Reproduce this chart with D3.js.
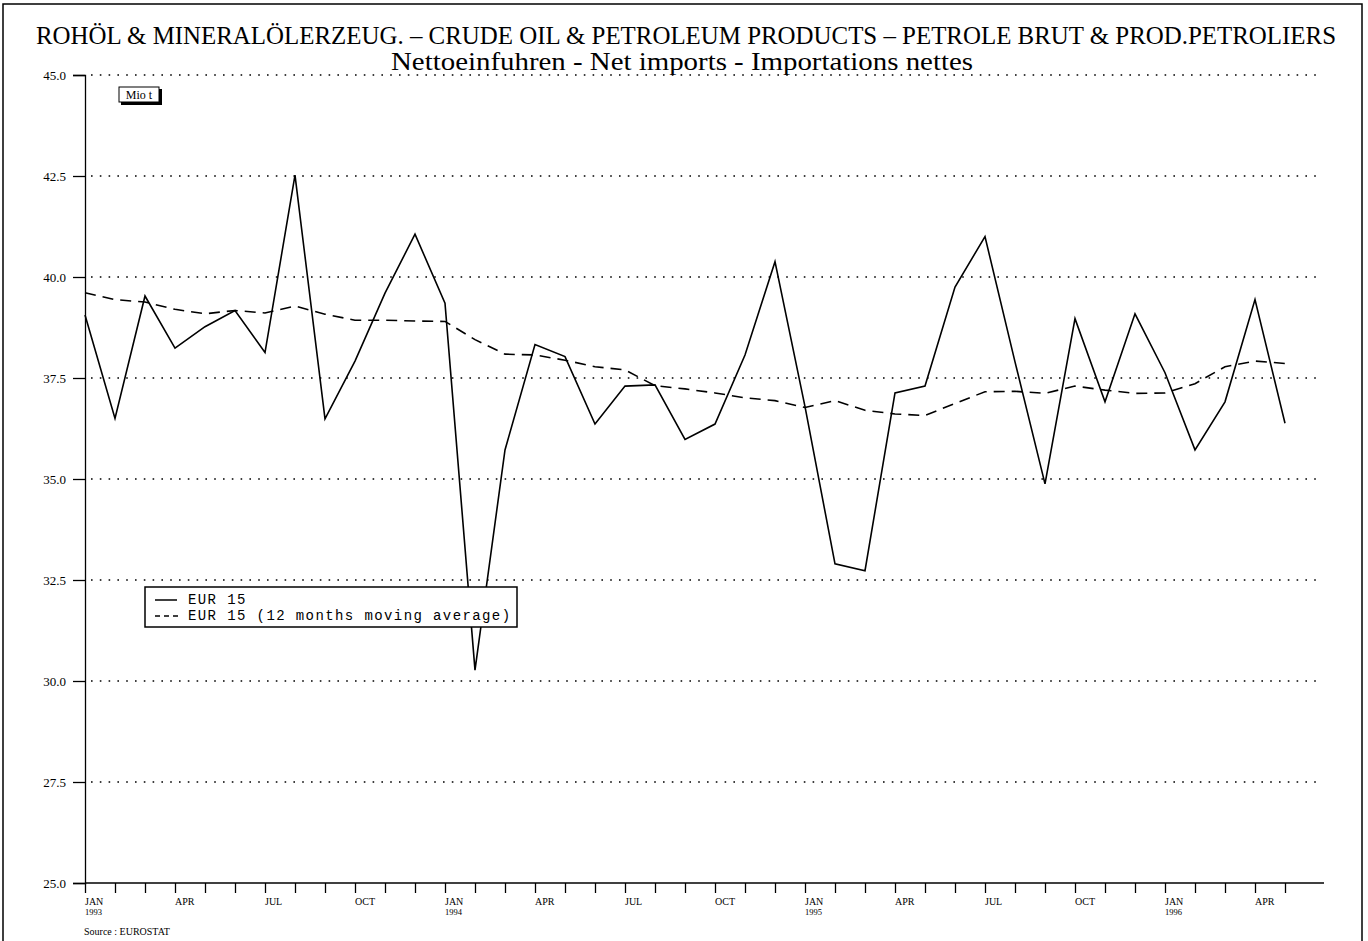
<!DOCTYPE html>
<html>
<head>
<meta charset="utf-8">
<script src="https://cdnjs.cloudflare.com/ajax/libs/d3/7.8.5/d3.min.js"></script>
<style>
  body { margin: 0; background: #fff; }
  svg { display: block; }
</style>
</head>
<body>
<div id="chart"></div>
<script>
// months shown on the x axis (Jan 1993 .. May 1996)
var months = [
  "1993-01","1993-02","1993-03","1993-04","1993-05","1993-06","1993-07","1993-08","1993-09","1993-10","1993-11","1993-12",
  "1994-01","1994-02","1994-03","1994-04","1994-05","1994-06","1994-07","1994-08","1994-09","1994-10","1994-11","1994-12",
  "1995-01","1995-02","1995-03","1995-04","1995-05","1995-06","1995-07","1995-08","1995-09","1995-10","1995-11","1995-12",
  "1996-01","1996-02","1996-03","1996-04","1996-05"
];

// net imports EUR 15, Mio t
var netImports = [
  39.06, 36.50, 39.53, 38.24, 38.77, 39.17, 38.13, 42.52, 36.49, 37.92, 39.60, 41.06,
  39.35, 30.27, 35.72, 38.33, 38.03, 36.36, 37.30, 37.33, 35.98, 36.36, 38.07, 40.38,
  36.79, 32.90, 32.73, 37.13, 37.30, 39.75, 41.00, 37.90, 34.88, 38.97, 36.91, 39.09,
  37.63, 35.72, 36.91, 39.44, 36.38
];

// 12 months moving average
var movingAvg = [
  39.61, 39.44, 39.38, 39.20, 39.09, 39.17, 39.11, 39.28, 39.08, 38.93, 38.93, 38.91,
  38.90, 38.45, 38.09, 38.07, 37.94, 37.78, 37.70, 37.31, 37.23, 37.13, 37.01, 36.94,
  36.77, 36.94, 36.70, 36.61, 36.57, 36.87, 37.16, 37.17, 37.12, 37.30, 37.20, 37.12,
  37.13, 37.36, 37.78, 37.92, 37.86
];

var yTicks = [25, 27.5, 30, 32.5, 35, 37.5, 40, 42.5, 45];
var monthNames = {"01": "JAN", "04": "APR", "07": "JUL", "10": "OCT"};

var title1 = "ROHÖL & MINERALÖLERZEUG. – CRUDE OIL & PETROLEUM PRODUCTS – PETROLE BRUT & PROD.PETROLIERS";
var title2 = "Nettoeinfuhren - Net imports - Importations nettes";
var legendLabels = ["EUR 15", "EUR 15 (12 months moving average)"];

var W = 1368, H = 941;
var serif = "'Liberation Serif', 'Times New Roman', serif";
var mono = "'Liberation Mono', 'Courier New', monospace";

var svg = d3.select("#chart").append("svg")
    .attr("width", W)
    .attr("height", H);

// outer frame
svg.append("rect")
    .attr("x", 3).attr("y", 4)
    .attr("width", 1359).attr("height", 950)
    .attr("fill", "none")
    .attr("stroke", "#000")
    .attr("stroke-width", 1.5);

// titles (textLength keeps the width of the original lettering)
svg.append("text")
    .attr("x", 686).attr("y", 44)
    .attr("text-anchor", "middle")
    .attr("textLength", 1300)
    .attr("lengthAdjust", "spacingAndGlyphs")
    .style("font-family", serif)
    .style("font-size", "25px")
    .text(title1);

svg.append("text")
    .attr("x", 682).attr("y", 70)
    .attr("text-anchor", "middle")
    .attr("textLength", 582)
    .attr("lengthAdjust", "spacingAndGlyphs")
    .style("font-family", serif)
    .style("font-size", "25px")
    .text(title2);

var x = d3.scaleLinear()
    .domain([0, 41.3])
    .range([85, 1324]);

var y = d3.scaleLinear()
    .domain([25, 45])
    .range([883, 75]);

// dotted grid lines
svg.append("g")
    .selectAll("line")
    .data(yTicks.filter(d => d > 25))
    .enter()
    .append("line")
        .attr("x1", x(0) + 6)
        .attr("x2", 1318)
        .attr("y1", d => y(d))
        .attr("y2", d => y(d))
        .attr("stroke", "#000")
        .attr("stroke-width", 1.6)
        .attr("stroke-dasharray", "1.6,7.2");

// y axis
var yAxis = svg.append("g")
    .attr("transform", "translate(" + x(0) + ",0)")
    .call(d3.axisLeft(y).tickValues(yTicks).tickSize(12).tickPadding(7).tickFormat(d3.format(".1f")));
yAxis.select(".domain").attr("stroke-width", 1.3);
yAxis.selectAll(".tick line").attr("stroke-width", 1.3);
yAxis.selectAll("text")
    .style("font-family", serif)
    .style("font-size", "13px")
    .attr("fill", "#000");

// x axis, one tick per month
var xAxis = svg.append("g")
    .attr("transform", "translate(0," + y(25) + ")")
    .call(d3.axisBottom(x).tickValues(d3.range(months.length)).tickSize(10).tickFormat(""));
xAxis.select(".domain").attr("stroke-width", 1.5).attr("d", "M" + x(0) + ",0H" + x(41.3));
xAxis.selectAll(".tick line").attr("stroke-width", 1.3);

// month / year labels
var labelled = months.map((m, i) => ({i: i, yr: m.slice(0, 4), mo: m.slice(5)}))
    .filter(d => monthNames[d.mo]);
var lab = svg.append("g")
    .style("font-family", serif)
    .style("font-size", "10px");
lab.selectAll("text.mon")
    .data(labelled)
    .enter()
    .append("text")
        .attr("class", "mon")
        .attr("x", d => x(d.i))
        .attr("y", 905)
        .text(d => monthNames[d.mo]);
lab.selectAll("text.yr")
    .data(labelled.filter(d => d.mo === "01"))
    .enter()
    .append("text")
        .attr("class", "yr")
        .attr("x", d => x(d.i))
        .attr("y", 915)
        .style("font-size", "8.5px")
        .text(d => d.yr);

svg.append("text")
    .attr("x", 84).attr("y", 935)
    .style("font-family", serif)
    .style("font-size", "10px")
    .text("Source : EUROSTAT");

// unit box with shadow
svg.append("rect")
    .attr("x", 121).attr("y", 89).attr("width", 41).attr("height", 16)
    .attr("fill", "#000");
svg.append("rect")
    .attr("x", 119).attr("y", 87).attr("width", 40).attr("height", 15)
    .attr("fill", "#fff").attr("stroke", "#000").attr("stroke-width", 1);
svg.append("text")
    .attr("x", 139).attr("y", 99)
    .attr("text-anchor", "middle")
    .style("font-family", serif)
    .style("font-size", "12px")
    .text("Mio t");

// series
var line = d3.line()
    .x((d, i) => x(i))
    .y(d => y(d));

svg.append("path")
    .datum(netImports)
    .attr("d", line)
    .attr("fill", "none")
    .attr("stroke", "#000")
    .attr("stroke-width", 1.6);

svg.append("path")
    .datum(movingAvg)
    .attr("d", line)
    .attr("fill", "none")
    .attr("stroke", "#000")
    .attr("stroke-width", 1.6)
    .attr("stroke-dasharray", "11,7");

// legend
var leg = svg.append("g");
leg.append("rect")
    .attr("x", 145).attr("y", 587).attr("width", 372).attr("height", 40)
    .attr("fill", "#fff").attr("stroke", "#000").attr("stroke-width", 1.5);
leg.append("line")
    .attr("x1", 155).attr("x2", 177).attr("y1", 600).attr("y2", 600)
    .attr("stroke", "#000").attr("stroke-width", 1.5);
leg.append("line")
    .attr("x1", 155).attr("x2", 179).attr("y1", 616).attr("y2", 616)
    .attr("stroke", "#000").attr("stroke-width", 1.5)
    .attr("stroke-dasharray", "5,4");
leg.selectAll("text")
    .data(legendLabels)
    .enter()
    .append("text")
        .attr("x", 188)
        .attr("y", (d, i) => 604 + i * 16)
        .style("font-family", mono)
        .style("font-size", "14px")
        .style("letter-spacing", "1.4px")
        .style("white-space", "pre")
        .text(d => d);
</script>
</body>
</html>
